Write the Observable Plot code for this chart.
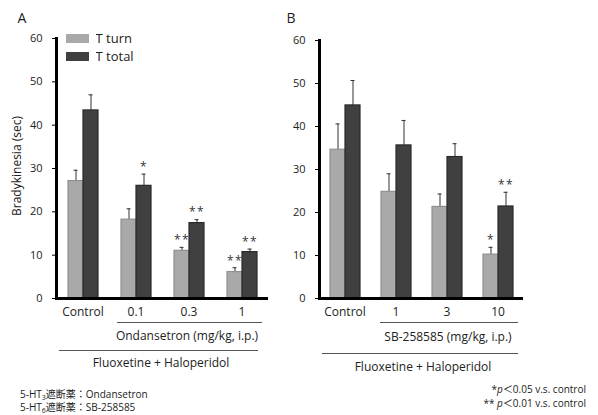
<!DOCTYPE html>
<html><head><meta charset="utf-8">
<script src="https://cdn.jsdelivr.net/npm/d3@7"></script>
<script src="https://cdn.jsdelivr.net/npm/@observablehq/plot@0.6"></script>
<style>
body{margin:0;background:#fff;font-family:"Open Sans",sans-serif;}
#wrap{position:relative;width:598px;height:415px;overflow:hidden;background:#fff;}
.abs{position:absolute;white-space:nowrap;color:#222;line-height:1;}
.c{transform:translate(-50%,-50%);}
.hl{position:absolute;height:0;border-top:1px solid #555;}
.plotbox{position:absolute;top:0;}
.note{font-size:10px;line-height:10px;font-family:'Open Sans','Noto Sans CJK JP',sans-serif;}
.note sub{font-size:7px;line-height:0;vertical-align:-2px;}
</style></head><body><div id="wrap"></div>
<script>
const seriesNames = ["T turn", "T total"];
const seriesColors = ["#a9a9a9", "#404040"];
const yTicks = [0, 10, 20, 30, 40, 50, 60];

const groupsA = ["Control", "0.1", "0.3", "1"];
const turnA = [27.1, 18.2, 11.0, 6.1];
const turnErrA = [2.5, 2.5, 0.8, 1.0];
const totalA = [43.4, 26.0, 17.4, 10.7];
const totalErrA = [3.6, 2.7, 0.8, 0.7];
const turnSigA = ["", "", "**", "**"];
const totalSigA = ["", "*", "**", "**"];

const groupsB = ["Control", "1", "3", "10"];
const turnB = [34.6, 24.8, 21.3, 10.2];
const turnErrB = [6.0, 4.2, 3.0, 1.7];
const totalB = [44.9, 35.6, 32.9, 21.4];
const totalErrB = [5.8, 5.8, 3.1, 3.3];
const turnSigB = ["", "", "", "*"];
const totalSigB = ["", "", "", "**"];

const wrap = document.getElementById("wrap");

function makePanel(groups, turn, turnErr, total, totalErr, turnSig, totalSig, o) {
  const rows = groups.flatMap((g, i) => [
    {group: g, series: seriesNames[0], value: turn[i], err: turnErr[i], sig: turnSig[i]},
    {group: g, series: seriesNames[1], value: total[i], err: totalErr[i], sig: totalSig[i]}
  ]);
  const plot = Plot.plot({
    width: o.width, height: o.height,
    marginLeft: o.ml, marginRight: o.mr, marginTop: o.mt, marginBottom: o.mb,
    style: {fontFamily: "'Open Sans', sans-serif", fontSize: "11px", color: "#222", background: "transparent"},
    fx: {domain: groups, padding: 0, label: null},
    x: {domain: seriesNames, paddingInner: 0, paddingOuter: o.po, axis: null},
    y: {domain: [0, 60], label: null},
    color: {domain: seriesNames, range: seriesColors},
    marks: [
      Plot.axisY({ticks: yTicks, tickSize: 4, tickPadding: 10, label: null, fontSize: 11, stroke: "#000"}),
      Plot.axisFx({anchor: "bottom", tickSize: 0, tickPadding: 9, label: null, fontSize: 12}),
      Plot.ruleX(rows, {fx: "group", x: "series", y1: "value", y2: d => d.value + d.err, stroke: "#333", strokeWidth: 1}),
      Plot.tickY(rows, {fx: "group", x: "series", y: d => d.value + d.err, stroke: "#333", strokeWidth: 1, insetLeft: 5.5, insetRight: 5.5}),
      Plot.barY(rows, {fx: "group", x: "series", y: "value", fill: "series", stroke: d => d.series === seriesNames[0] ? "#909090" : "#2a2a2a", strokeWidth: 1.2}),
      Plot.text(rows.filter(d => d.sig), {fx: "group", x: "series", y: d => d.value + d.err, text: "sig", dy: -7, fontSize: 12, fill: "#333"}),
      Plot.ruleY([0], {stroke: "#000", strokeWidth: 3}),
      Plot.frame({anchor: "left", facetAnchor: "left", stroke: "#000", strokeWidth: 3})
    ]
  });
  plot.querySelectorAll("[aria-label='text'] text").forEach(t => t.setAttribute("letter-spacing", "1.5"));
  const box = document.createElement("div");
  box.className = "plotbox";
  box.style.left = o.left + "px";
  box.appendChild(plot);
  wrap.appendChild(box);
  return plot;
}

const plotA = makePanel(groupsA, turnA, turnErrA, totalA, totalErrA, turnSigA, totalSigA,
  {left: 0, width: 290, height: 330, ml: 55, mr: 22, mt: 38, mb: 32, po: 0.66});
const plotB = makePanel(groupsB, turnB, turnErrB, totalB, totalErrB, turnSigB, totalSigB,
  {left: 280, width: 250, height: 330, ml: 39, mr: 7, mt: 40, mb: 32, po: 0.68});

// legend
const leg = plotA.legend("color", {columns: 1, swatchWidth: 23, swatchHeight: 9,
  style: {fontSize: "13px", fontFamily: "'Open Sans', sans-serif", color: "#222", lineHeight: "17px", margin: "0"}});
const legBox = document.createElement("div");
legBox.style.cssText = "position:absolute;left:66px;top:30px;";
legBox.appendChild(leg);
wrap.appendChild(legBox);

function addText(txt, x, y, css, center = true, cls = "") {
  const d = document.createElement("div");
  d.className = "abs" + (center ? " c" : "") + (cls ? " " + cls : "");
  d.style.left = x + "px"; d.style.top = y + "px";
  if (css) d.style.cssText += css;
  d.innerHTML = txt;
  wrap.appendChild(d);
}
function addLine(x1, x2, y) {
  const d = document.createElement("div");
  d.className = "hl";
  d.style.left = x1 + "px"; d.style.top = y + "px"; d.style.width = (x2 - x1) + "px";
  wrap.appendChild(d);
}

addText("A", 22, 18, "font-size:14px;");
addText("B", 291, 18, "font-size:14px;");
addText("Bradykinesia (sec)", 17, 166, "font-size:12px;transform:translate(-50%,-50%) rotate(-90deg);");

addLine(117, 262, 322);
addText("Ondansetron (mg/kg, i.p.)", 187, 336, "font-size:12px;");
addLine(59, 258, 350);
addText("Fluoxetine + Haloperidol", 161, 363, "font-size:12px;");

addLine(380, 518, 322);
addText("SB-258585 (mg/kg, i.p.)", 448, 337, "font-size:12px;");
addLine(322, 518, 353);
addText("Fluoxetine + Haloperidol", 423, 367, "font-size:12px;");

addText("5-HT<sub>3</sub>遮断薬：Ondansetron", 20, 389, "", false, "note");
addText("5-HT<sub>6</sub>遮断薬：SB-258585", 20, 402, "", false, "note");

addText("*<i>p</i>＜0.05 v.s. control", 0, 384, "left:auto;right:12px;", false, "note");
addText("** <i>p</i>＜0.01 v.s. control", 0, 398, "left:auto;right:12px;", false, "note");
</script>
</body></html>
